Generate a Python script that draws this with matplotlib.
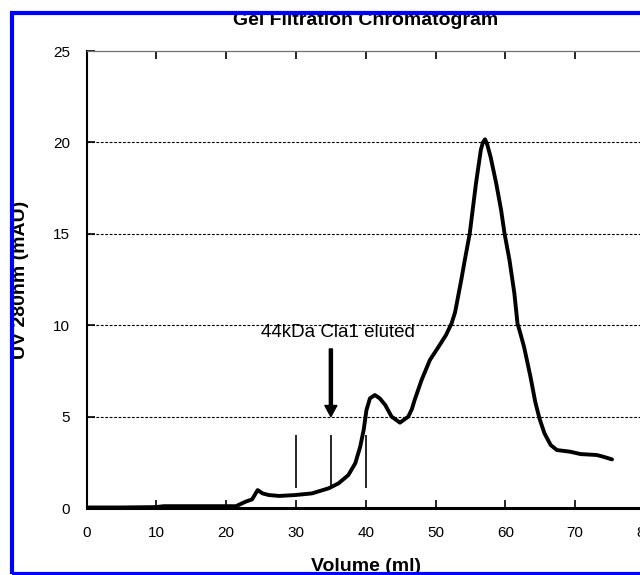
import matplotlib
matplotlib.use("Agg")
import matplotlib.pyplot as plt
from matplotlib.patches import Rectangle

plt.rcParams['font.family'] = ['Liberation Sans', 'DejaVu Sans']

# elution volume (ml) / UV 280nm absorbance (mAU)
volume = [0, 5, 10, 11, 15, 20, 21.4, 22.8, 23.7, 24.5, 25.2, 26.1, 27.6,
          29.9, 32.3, 34.7, 36.1, 37.5, 38.5, 39.2, 39.7, 40.1, 40.6, 41.3,
          42.0, 42.8, 43.7, 44.9, 46.1, 46.6, 47.0, 48.0, 49.2, 50.4, 51.5,
          52.3, 52.8, 53.2, 53.7, 54.2, 54.9, 55.8, 56.5, 56.8, 57.1, 57.4,
          57.9, 58.7, 59.4, 59.9, 60.6, 61.3, 61.75, 62.2, 62.7, 63.6, 64.3,
          64.9, 65.6, 66.5, 67.4, 69.3, 70.8, 73.1, 74.1, 75.3]
uv = [0.03, 0.03, 0.05, 0.1, 0.1, 0.1, 0.1, 0.35, 0.47, 0.98, 0.8, 0.71,
      0.66, 0.71, 0.8, 1.08, 1.35, 1.8, 2.45, 3.35, 4.27, 5.36, 6.0, 6.18,
      6.0, 5.63, 5.0, 4.67, 5.0, 5.4, 5.9, 7.0, 8.1, 8.8, 9.46, 10.1, 10.7,
      11.5, 12.5, 13.57, 15.0, 17.76, 19.6, 20.0, 20.17, 19.9, 19.2, 17.76,
      16.3, 15.0, 13.57, 11.75, 10.1, 9.5, 8.8, 7.2, 5.8, 4.9, 4.1, 3.45,
      3.17, 3.08, 2.95, 2.9, 2.8, 2.66]

# fraction markers
marker_x = [30, 35, 40]
marker_lo = 1.1
marker_hi = 4.0

note_text = "44kDa Cla1 eluted"
note_xy = (36.0, 9.6)
arrow_x = 35
arrow_from = 8.7
arrow_to = 5.0

fig = plt.figure(figsize=(6.4, 5.75), dpi=100)
ax = fig.add_axes([0.1355, 0.1165, 0.872, 0.7948])

ax.plot(volume, uv, color='black', lw=2.8, solid_capstyle='round',
        solid_joinstyle='round', zorder=4)

ax.vlines(marker_x, marker_lo, marker_hi, colors='black', lw=1.2, zorder=3)

ax.annotate('', xy=(arrow_x, arrow_to), xytext=(arrow_x, arrow_from),
            arrowprops=dict(width=2.2, headwidth=8.6, headlength=8,
                            color='black', shrink=0), zorder=5)
ax.text(note_xy[0], note_xy[1], note_text, ha='center', va='center',
        fontsize=13.5)

ax.set_xlim(0, 80)
ax.set_ylim(0, 25)
ax.set_xticks(range(0, 81, 10))
ax.set_yticks(range(0, 26, 5))

ax.grid(axis='y', color='black', lw=0.8, linestyle=(0, (2.5, 1.5)))
gl = ax.get_ygridlines()
gl[0].set_visible(False)
gl[-1].set_visible(False)
ax.set_axisbelow(True)

ax.tick_params(axis='both', direction='in', length=6, width=1.2,
               labelsize=11, colors='black')
ax.tick_params(axis='x', top=True, pad=13)
ax.tick_params(axis='y', pad=12)

ax.spines['bottom'].set_linewidth(2.2)
ax.spines['left'].set_linewidth(1.5)
ax.spines['top'].set_linewidth(0.9)
ax.spines['top'].set_color('#707070')
ax.spines['right'].set_linewidth(0.9)

ax.set_title("Gel Filtration Chromatogram", fontsize=14, fontweight='bold',
             pad=18.5)
ax.set_xlabel("Volume (ml)", fontsize=14, fontweight='bold', labelpad=13)
ax.set_ylabel("UV 280nm (mAU)", fontsize=14, fontweight='bold', labelpad=17)

# blue selection frame round the chart
fig.add_artist(Rectangle((0.0195, 0.0026), 1.2, 0.9756,
                         transform=fig.transFigure, fill=False,
                         edgecolor='#0000ff', lw=3, zorder=10))

fig.savefig("out.png", dpi=100)
